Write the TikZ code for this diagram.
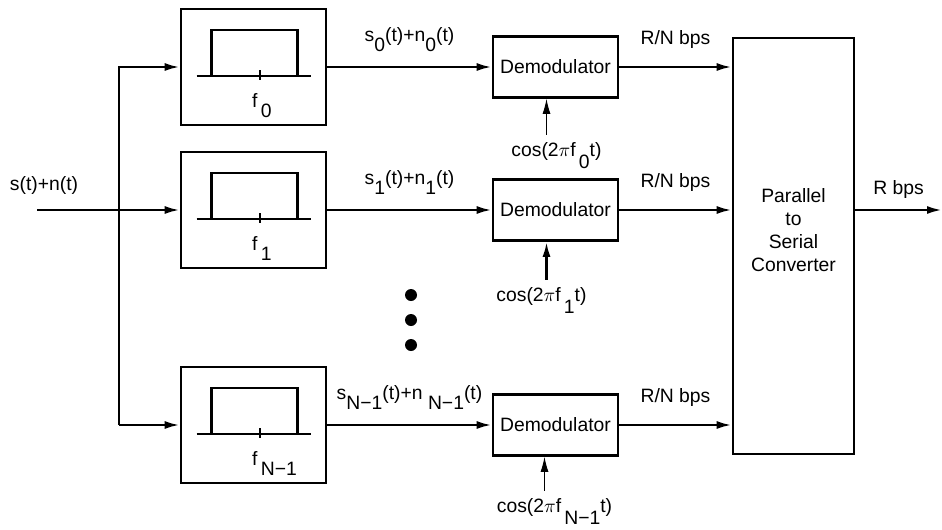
\documentclass[tikz,border=0pt]{standalone}
\usepackage{fontspec}
\setmainfont{Liberation Sans}
\usetikzlibrary{arrows.meta,positioning}
\newcommand{\lowsub}[2][1ex]{\raisebox{-#1}{#2}}

\tikzset{
  >={Latex[length=3mm,width=1.6mm]},
  blk/.style={draw, line width=1.5pt, inner sep=0pt},
  filt/.style={blk, minimum width=2.9cm, minimum height=2.32cm},
  demod/.style={blk, minimum width=2.5cm, minimum height=1.22cm},
  lbl/.style={inner sep=0pt},
  thinline/.style={line width=0.6pt},
}

\begin{document}
\begin{tikzpicture}[line width=1.4pt, font=\fontsize{11}{13}\selectfont]
\useasboundingbox (0,0) rectangle (18.84,10.58);

% filter bank
\node[filt] (bpf0) at (5.07,9.24) {};
\node[filt] (bpf1) at (5.07,6.38) {};
\node[filt] (bpfN) at (5.07,2.08) {};

% pass band sketches
\draw ([shift={(-1.14,-0.18)}]bpf0.center) -- ++(2.28,0);
\draw ([shift={(-0.84,-0.18)}]bpf0.center) |- ++(1.72,0.92) -- ++(0,-0.92);
\draw ([shift={(0.13,-0.06)}]bpf0.center) -- ++(0,-0.2);
\node[lbl, anchor=base west] (f0) at ([shift={(-0.05,-0.8)}]bpf0.center) {f\lowsub{\,0}};

\draw ([shift={(-1.14,-0.18)}]bpf1.center) -- ++(2.28,0);
\draw ([shift={(-0.84,-0.18)}]bpf1.center) |- ++(1.72,0.92) -- ++(0,-0.92);
\draw ([shift={(0.13,-0.06)}]bpf1.center) -- ++(0,-0.2);
\node[lbl, anchor=base west] (f1) at ([shift={(-0.05,-0.8)}]bpf1.center) {f\lowsub{\,1}};

\draw ([shift={(-1.14,-0.18)}]bpfN.center) -- ++(2.28,0);
\draw ([shift={(-0.84,-0.18)}]bpfN.center) |- ++(1.72,0.92) -- ++(0,-0.92);
\draw ([shift={(0.13,-0.06)}]bpfN.center) -- ++(0,-0.2);
\node[lbl, anchor=base west] (fN) at ([shift={(-0.05,-0.8)}]bpfN.center) {f\lowsub{\,N−1}};

% demodulators and converter
\node[demod] (dem0) at (11.11,9.24) {Demodulator};
\node[demod] (dem1) at (11.11,6.38) {Demodulator};
\node[demod] (demN) at (11.11,2.08) {Demodulator};
\node[blk, minimum width=2.42cm, minimum height=8.32cm] (pts) at (15.87,5.66) {};
\node[align=center, lbl] (ptstxt) at ([yshift=0.32cm]pts.center) {Parallel\\to\\Serial\\Converter};

% input split
\coordinate (in) at (0.74,6.38);
\coordinate (tap) at (2.38,6.38);
\node[lbl] (inlbl) at (0.88,6.88) {s(t)+n(t)};
\draw[->] (in) -- (bpf1.west);
\draw[->] (tap |- bpfN) |- (bpf0.west);
\draw[->] (tap |- bpfN) -- (bpfN.west);

% filter outputs
\draw[->] (bpf0) -- node[lbl, above=0.28cm] (sn0) {s\lowsub{0}(t)+n\lowsub{0}(t)} (dem0);
\draw[->] (bpf1) -- node[lbl, above=0.28cm] (sn1) {s\lowsub{1}(t)+n\lowsub{1}(t)} (dem1);
\draw[->] (bpfN) -- node[lbl, above=0.28cm] (snN) {s\lowsub{N−1}(t)+n \lowsub{N−1}(t)} (demN);

% local oscillators
\coordinate (lo0) at ([xshift=-0.18cm,yshift=-0.72cm]dem0.south);
\coordinate (lo1) at ([xshift=-0.18cm,yshift=-0.76cm]dem1.south);
\coordinate (loN) at ([xshift=-0.22cm,yshift=-0.68cm]demN.south);
\draw[->, thinline] (lo0) -- (lo0 |- dem0.south);
\draw[->] (lo1) -- (lo1 |- dem1.south);
\draw[->, thinline] (loN) -- (loN |- demN.south);
\node[below=0.12cm of lo0, xshift=0.2cm, lbl] (cos0) {cos(2$\pi$f\lowsub[1.2ex]{\,0}t)};
\node[below=0.12cm of lo1, xshift=-0.1cm, lbl] (cos1) {cos(2$\pi$f\lowsub[1.2ex]{\,1}t)};
\node[below=0.12cm of loN, xshift=0.2cm, lbl] (cosN) {cos(2$\pi$f\lowsub[1.2ex]{\,N−1}t)};

% demodulated streams
\draw[->] (dem0) -- node[lbl, above=0.34cm] (rn0) {R/N bps} (dem0 -| pts.west);
\draw[->] (dem1) -- node[lbl, above=0.34cm] (rn1) {R/N bps} (dem1 -| pts.west);
\draw[->] (demN) -- node[lbl, above=0.34cm] (rnN) {R/N bps} (demN -| pts.west);

% serial output
\coordinate (out) at (18.84,6.38);
\draw[->] (pts.east |- out) -- node[lbl, above=0.2cm] (rout) {R bps} (out);

% further branches
\fill (8.22,4.68) circle (0.12);
\fill (8.22,4.18) circle (0.12);
\fill (8.22,3.68) circle (0.12);
\end{tikzpicture}
\end{document}
